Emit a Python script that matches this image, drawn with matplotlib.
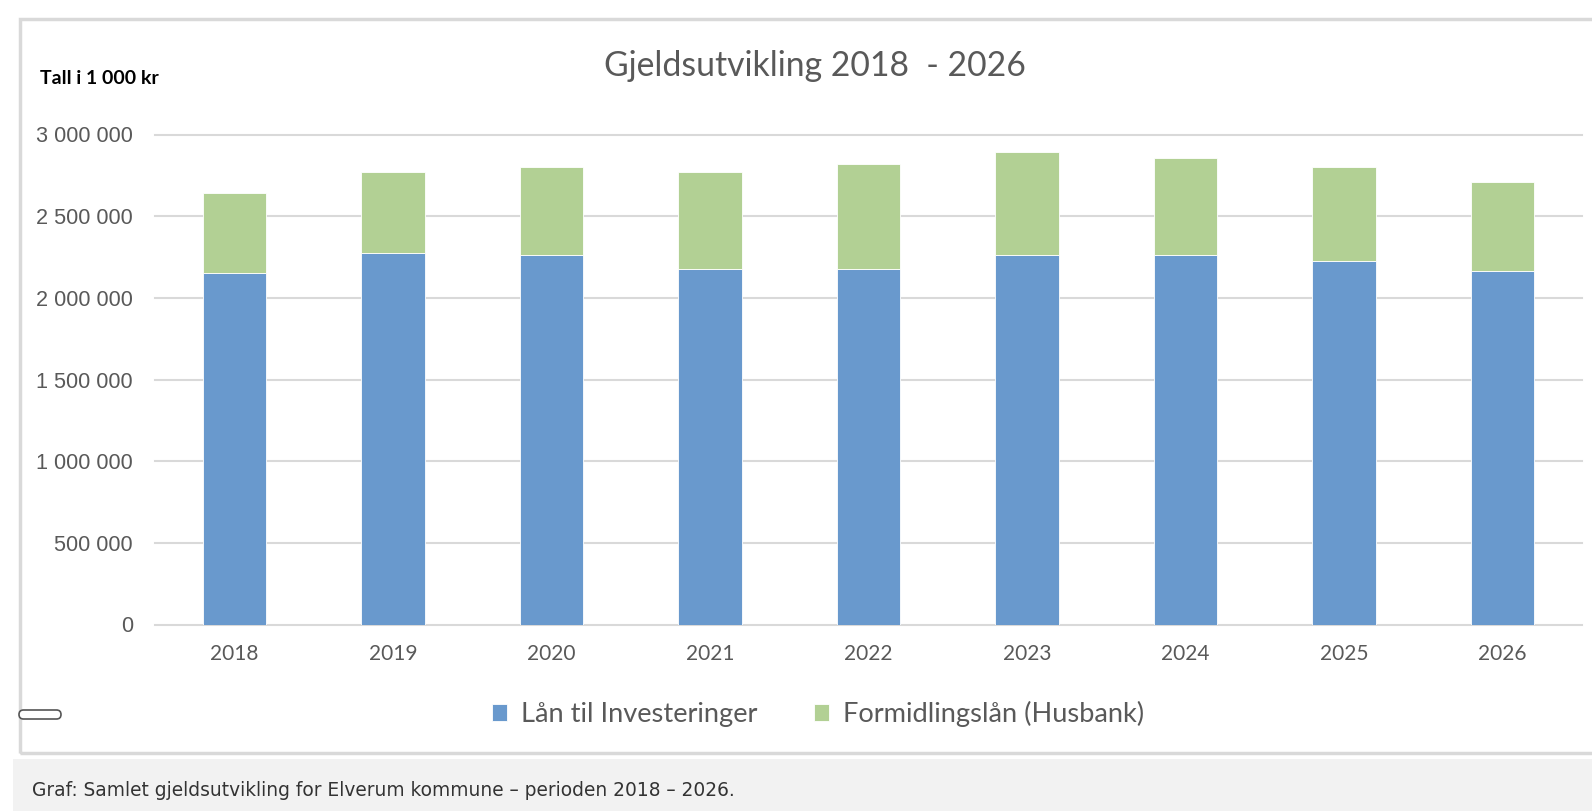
import matplotlib.pyplot as plt
import matplotlib.patches as mpatches
from matplotlib.transforms import IdentityTransform
from matplotlib.ticker import FuncFormatter

# Data (tall i 1 000 kr)
years = ["2018", "2019", "2020", "2021", "2022", "2023", "2024", "2025", "2026"]
laan_investering = [2152000, 2274000, 2262000, 2176000, 2176000, 2262000, 2262000, 2225000, 2164000]
totalt = [2640000, 2773000, 2798000, 2773000, 2822000, 2895000, 2859000, 2798000, 2711000]
formidlingslaan = [t - l for t, l in zip(totalt, laan_investering)]

blue = "#6999cd"
green = "#b2d094"
grey_txt = "#595959"

W, H = 1592, 811
fig = plt.figure(figsize=(W / 100, H / 100), dpi=100)


def fx(px):
    return px / W


def fy(py):
    return 1 - py / H


# chart frame and caption strip
fig.patches.append(mpatches.Rectangle((fx(20), fy(753)), fx(1600) - fx(20), fy(19) - fy(753),
                                      transform=fig.transFigure, fill=False,
                                      edgecolor="#d9d9d9", linewidth=2.5))
fig.patches.append(mpatches.Rectangle((fx(13), 0), 1, fy(759),
                                      transform=fig.transFigure, facecolor="#f2f2f2",
                                      edgecolor="none"))
# small rounded handle at the left edge (pixel coordinates)
fig.patches.append(mpatches.FancyBboxPatch((19, H - 719), 42, 9,
                                           boxstyle="round,pad=0,rounding_size=4.5",
                                           transform=IdentityTransform(), facecolor="white",
                                           edgecolor="#555555", linewidth=1.2))

ax = fig.add_axes([fx(155), fy(624.5), fx(1582) - fx(155), fy(134.5) - fy(624.5)])
x = range(len(years))
ax.bar(x, laan_investering, width=0.4, color=blue, edgecolor="white", linewidth=0.6,
       label="Lån til Investeringer", zorder=3)
ax.bar(x, formidlingslaan, width=0.4, bottom=laan_investering, color=green,
       edgecolor="white", linewidth=0.6, label="Formidlingslån (Husbank)", zorder=3)

ax.set_xlim(-0.5, len(years) - 0.5)
ax.set_ylim(0, 3000000)
ax.set_yticks(range(0, 3000001, 500000))
ax.yaxis.set_major_formatter(FuncFormatter(lambda v, p: f"{int(v):,}".replace(",", " ")))
ax.grid(axis="y", color="#d9d9d9", linewidth=1.5, zorder=0)
for ln in ax.get_ygridlines():
    ln.set_clip_on(False)
for s in ax.spines.values():
    s.set_visible(False)
ax.set_xticks(list(x))
ax.set_xticklabels(years, fontfamily="Lato", fontsize=15, color=grey_txt)
ax.tick_params(axis="both", length=0)
ax.tick_params(axis="x", pad=14)
ax.tick_params(axis="y", pad=16)
for t in ax.get_yticklabels():
    t.set_fontfamily("Liberation Sans")
    t.set_fontsize(15.6)
    t.set_color(grey_txt)

fig.text(fx(815), fy(66), "Gjeldsutvikling 2018  - 2026", ha="center", va="center",
         fontfamily="Lato", fontsize=24.3, color=grey_txt)
fig.text(fx(40), fy(78), "Tall i 1 000 kr", ha="left", va="center",
         fontfamily="Lato", fontweight="bold", fontsize=14, color="black")

fig.legend(loc="center", bbox_to_anchor=(fx(818), fy(714)), ncol=2, frameon=False,
           prop={"family": "Lato", "size": 19.6}, labelcolor=grey_txt,
           handlelength=0.55, handleheight=0.55, handletextpad=0.5, columnspacing=2.1)

fig.text(fx(32), fy(791), "Graf: Samlet gjeldsutvikling for Elverum kommune – perioden 2018 – 2026.",
         ha="left", va="center", fontfamily="DejaVu Sans", fontsize=13.4, color="#333333")

fig.savefig("out.png", dpi=100)
